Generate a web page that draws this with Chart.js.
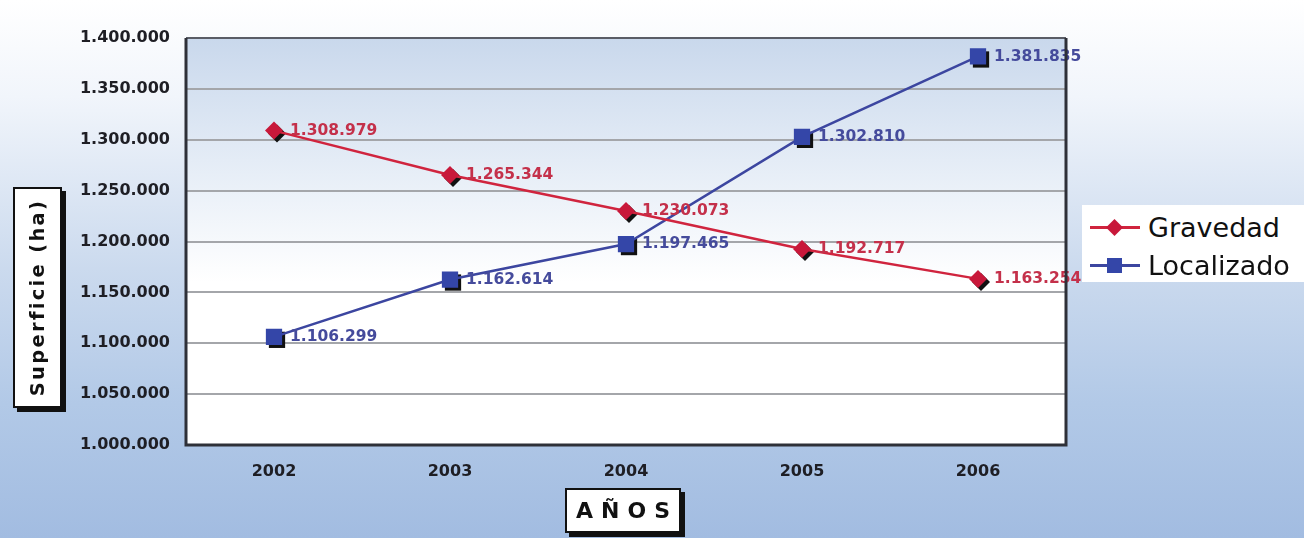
<!DOCTYPE html>
<html>
<head>
<meta charset="utf-8">
<script src="https://cdn.jsdelivr.net/npm/chart.js@4/dist/chart.umd.min.js"></script>
<style>
  html, body { margin: 0; padding: 0; }
  body {
    width: 1304px; height: 538px; position: relative; overflow: hidden;
    background: linear-gradient(to bottom, #ffffff 0%, #f1f5fb 18%, #cbdaee 50%, #b2c9e7 75%, #a2bce1 100%);
    font-family: "DejaVu Sans", sans-serif;
  }
  #graf { position: absolute; left: 0; top: 0; }
  .caja {
    position: absolute; background: #fff; border: 2px solid #111;
    box-shadow: 4px 4px 0 #111; box-sizing: border-box;
    display: flex; align-items: center; justify-content: center;
    font-weight: bold; color: #111;
  }
  #tituloY { left: 13px; top: 187px; width: 49px; height: 221px; }
  #tituloY span { transform: rotate(-90deg); white-space: nowrap; font-size: 19.5px; letter-spacing: 2.3px; }
  #tituloX { left: 565px; top: 488px; width: 116px; height: 45px; font-size: 22px; letter-spacing: 8px; padding-left: 8px; }
  #leyenda {
    position: absolute; left: 1082px; top: 205px; width: 222px; height: 77px;
    background: #fff;
  }
  .item { position: absolute; left: 8px; height: 38px; display: flex; align-items: center; }
  .item .linea { position: relative; width: 50px; height: 3px; }
  .item .marca { position: absolute; left: 17px; top: -6px; width: 15px; height: 15px; }
  .item .texto { margin-left: 8px; font-size: 27px; color: #111; }
</style>
</head>
<body>
<canvas id="graf" width="1304" height="538"></canvas>
<div class="caja" id="tituloY"><span>Superficie (ha)</span></div>
<div class="caja" id="tituloX">AÑOS</div>
<div id="leyenda">
  <div class="item" style="top:3px">
    <div class="linea" style="background:#d0243e"><div class="marca" style="background:#c8183a;transform:rotate(45deg) scale(0.8)"></div></div>
    <span class="texto">Gravedad</span>
  </div>
  <div class="item" style="top:41px">
    <div class="linea" style="background:#3c46a0"><div class="marca" style="background:#3446a8"></div></div>
    <span class="texto">Localizado</span>
  </div>
</div>
<script>
// Données du graphique
const anios = ['2002', '2003', '2004', '2005', '2006'];
const gravedad = [1308979, 1265344, 1230073, 1192717, 1163254];
const localizado = [1106299, 1162614, 1197465, 1302810, 1381835];
const ejeMin = 1000000;
const ejeMax = 1400000;
const ejePaso = 50000;

// Format espagnol : séparateur de milliers = point
function formato(v) {
    return String(Math.round(v)).replace(/\B(?=(\d{3})+(?!\d))/g, '.');
}

// Fond du cadre (dégradé bleu clair vers blanc) + bordure
const fondoPlugin = {
    id: 'fondo',
    beforeDraw(chart) {
        const { ctx, chartArea: a } = chart;
        const g = ctx.createLinearGradient(0, a.top, 0, a.bottom);
        g.addColorStop(0, '#c9d8ec');
        g.addColorStop(0.3, '#e4ecf6');
        g.addColorStop(0.6, '#ffffff');
        g.addColorStop(1, '#ffffff');
        ctx.save();
        ctx.fillStyle = g;
        ctx.fillRect(a.left, a.top, a.right - a.left, a.bottom - a.top);
        ctx.restore();
    },
    afterDraw(chart) {
        const { ctx, chartArea: a } = chart;
        ctx.save();
        ctx.strokeStyle = '#5a5d66';
        ctx.lineWidth = 2;
        ctx.beginPath();
        ctx.moveTo(a.left, a.top);
        ctx.lineTo(a.right, a.top);
        ctx.stroke();
        ctx.strokeStyle = '#2e3038';
        ctx.lineWidth = 3;
        ctx.beginPath();
        ctx.moveTo(a.left, a.top);
        ctx.lineTo(a.left, a.bottom);
        ctx.lineTo(a.right, a.bottom);
        ctx.lineTo(a.right, a.top);
        ctx.stroke();
        ctx.restore();
    }
};

// Ombre noire décalée sous les marqueurs
const sombraPlugin = {
    id: 'sombra',
    beforeDatasetDraw(chart, args) {
        const { ctx } = chart;
        const ds = chart.data.datasets[args.index];
        ctx.save();
        ctx.fillStyle = '#111';
        args.meta.data.forEach(p => {
            const x = p.x + 3, y = p.y + 3;
            ctx.beginPath();
            if (ds.pointStyle === 'rectRot') {
                const r = ds.pointRadius;
                ctx.moveTo(x, y - r); ctx.lineTo(x + r, y); ctx.lineTo(x, y + r); ctx.lineTo(x - r, y);
            } else {
                const s = ds.pointRadius * Math.SQRT1_2;
                ctx.rect(x - s, y - s, 2 * s, 2 * s);
            }
            ctx.closePath();
            ctx.fill();
        });
        ctx.restore();
    }
};

// Étiquettes de valeurs à droite de chaque point
const etiquetasPlugin = {
    id: 'etiquetas',
    afterDatasetsDraw(chart) {
        const { ctx } = chart;
        ctx.save();
        ctx.font = 'bold 15.5px "DejaVu Sans"';
        ctx.textAlign = 'left';
        ctx.textBaseline = 'middle';
        chart.data.datasets.forEach((ds, i) => {
            const meta = chart.getDatasetMeta(i);
            ctx.fillStyle = ds.labelColor;
            meta.data.forEach((p, j) => {
                ctx.fillText(formato(ds.data[j]), p.x + 16, p.y);
            });
        });
        ctx.restore();
    }
};

const ctx = document.getElementById('graf').getContext('2d');
new Chart(ctx, {
    type: 'line',
    data: {
        labels: anios,
        datasets: [{
            label: 'Gravedad',
            data: gravedad,
            borderColor: '#d0243e',
            backgroundColor: '#c8183a',
            pointBackgroundColor: '#c8183a',
            pointBorderColor: '#c8183a',
            borderWidth: 2.5,
            pointStyle: 'rectRot',
            pointRadius: 9,
            pointBorderWidth: 0,
            labelColor: '#c4304a',
            tension: 0
        }, {
            label: 'Localizado',
            data: localizado,
            borderColor: '#3c46a0',
            backgroundColor: '#3446a8',
            pointBackgroundColor: '#3446a8',
            pointBorderColor: '#3446a8',
            borderWidth: 2.5,
            pointStyle: 'rect',
            pointRadius: 11.5,
            pointBorderWidth: 0,
            labelColor: '#454b9c',
            tension: 0
        }]
    },
    options: {
        responsive: false,
        animation: false,
        devicePixelRatio: 1,
        layout: { padding: { top: 38, right: 238, left: 0, bottom: 0 } },
        plugins: {
            legend: { display: false },
            tooltip: { enabled: false }
        },
        scales: {
            x: {
                type: 'category',
                offset: true,
                afterFit: s => { s.height = 93; },
                grid: { display: false, drawTicks: false },
                border: { display: false },
                ticks: {
                    padding: 17,
                    color: '#1e1e24',
                    font: { family: 'DejaVu Sans', size: 16, weight: 'bold' }
                }
            },
            y: {
                min: ejeMin,
                max: ejeMax,
                afterFit: s => { s.width = 186; },
                grid: { color: '#a4a6aa', lineWidth: 2, drawTicks: false },
                border: { display: false },
                ticks: {
                    stepSize: ejePaso,
                    padding: 16,
                    color: '#1e1e24',
                    font: { family: 'DejaVu Sans', size: 16, weight: 'bold' },
                    callback: v => formato(v)
                }
            }
        }
    },
    plugins: [fondoPlugin, sombraPlugin, etiquetasPlugin]
});
</script>
</body>
</html>
